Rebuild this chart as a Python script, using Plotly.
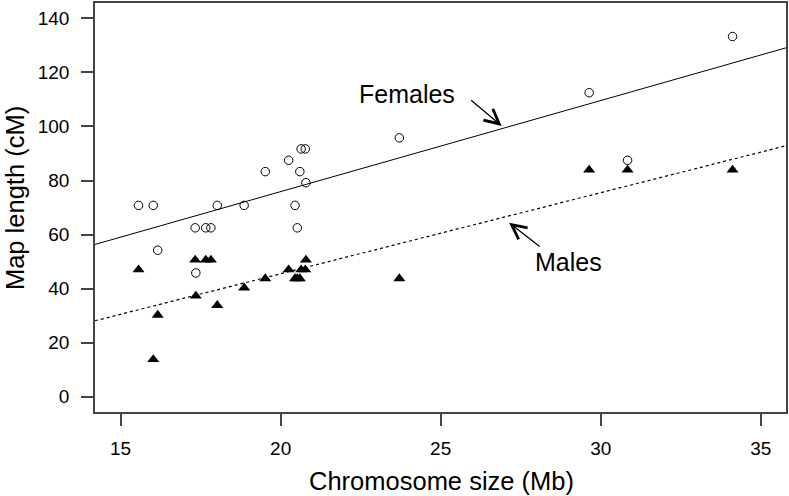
import numpy as np
import plotly.graph_objects as go

# Chromosome sizes (Mb)
chrom_size = [15.56, 16.02, 16.16, 17.33, 17.35, 17.66, 17.82, 18.02, 18.86, 19.52,
              20.25, 20.45, 20.52, 20.60, 20.64, 20.77, 20.79, 23.71, 29.64, 30.84, 34.12]
# Map lengths (cM)
female_len = [70.8, 70.8, 54.2, 62.5, 45.8, 62.5, 62.5, 70.8, 70.8, 83.3,
              87.5, 70.8, 62.5, 83.3, 91.7, 91.7, 79.2, 95.8, 112.5, 87.5, 133.3]
male_len = [47.0, 13.8, 30.2, 50.6, 37.3, 50.6, 50.6, 33.8, 40.3, 43.7,
            47.0, 43.7, 43.7, 43.7, 47.0, 47.0, 50.6, 43.7, 83.9, 83.9, 83.9]

# Regression fits (intercept, slope)
female_fit = (8.5, 3.37)
male_fit = (-14.5, 3.0)

x_range = [14.2, 35.79]
y_range = [-5.66, 145.7]
x_ticks = [15, 20, 25, 30, 35]
y_ticks = [0, 20, 40, 60, 80, 100, 120, 140]

FONT = "Liberation Sans, Arial, sans-serif"
xl = np.array(x_range)

fig = go.Figure()
fig.add_trace(go.Scatter(x=xl, y=female_fit[0] + female_fit[1] * xl, mode="lines",
                         line=dict(color="black", width=1), hoverinfo="skip"))
fig.add_trace(go.Scatter(x=xl, y=male_fit[0] + male_fit[1] * xl, mode="lines",
                         line=dict(color="black", width=1.2, dash="dot"), hoverinfo="skip"))
fig.add_trace(go.Scatter(x=chrom_size, y=female_len, mode="markers", name="Females",
                         marker=dict(symbol="circle-open", size=8.5, color="black",
                                     line=dict(width=1, color="black"))))
fig.add_trace(go.Scatter(x=chrom_size, y=male_len, mode="markers", name="Males",
                         marker=dict(symbol="triangle-up", size=10.5, color="black",
                                     line=dict(width=0))))

# Labels and arrows
fig.add_annotation(x=23.94, y=112.0, text="Females", showarrow=False,
                   font=dict(size=25, color="black", family=FONT))
fig.add_annotation(x=28.99, y=50.0, text="Males", showarrow=False,
                   font=dict(size=25, color="black", family=FONT))
fig.add_annotation(x=26.906, y=100.2, ax=-32, ay=-27, text="", showarrow=True,
                   arrowhead=5, arrowsize=2.2, arrowwidth=1.3, arrowcolor="black")
fig.add_annotation(x=27.14, y=64.4, ax=32, ay=25, text="", showarrow=True,
                   arrowhead=5, arrowsize=2.2, arrowwidth=1.3, arrowcolor="black")

# Axis titles
fig.add_annotation(xref="paper", yref="paper", x=0.5017, y=-0.1687,
                   xanchor="center", yanchor="middle", showarrow=False,
                   text="Chromosome size (Mb)",
                   font=dict(size=25.5, color="black", family=FONT))
fig.add_annotation(xref="paper", yref="paper", x=-0.1158, y=0.523,
                   xanchor="center", yanchor="middle", showarrow=False, textangle=-90,
                   text="Map length (cM)",
                   font=dict(size=25.5, color="black", family=FONT))

axis_common = dict(showgrid=False, zeroline=False, showline=True, mirror=True,
                   linecolor="#444", linewidth=1.5, ticks="outside", ticklen=12,
                   tickwidth=1.5, tickcolor="#444", automargin=False,
                   tickfont=dict(size=19, color="black", family=FONT))
fig.update_xaxes(range=x_range, tickvals=x_ticks, ticklabelstandoff=6, **axis_common)
fig.update_yaxes(range=y_range, tickvals=y_ticks, ticklabelstandoff=8, **axis_common)

fig.update_layout(width=789, height=496, showlegend=False,
                  plot_bgcolor="white", paper_bgcolor="white",
                  margin=dict(l=95, r=3, t=3, b=84),
                  font=dict(family=FONT, color="black"))

fig.write_html("out.html", config={"displayModeBar": False},
               post_script="document.body.style.margin='0';document.body.style.overflow='hidden';")
